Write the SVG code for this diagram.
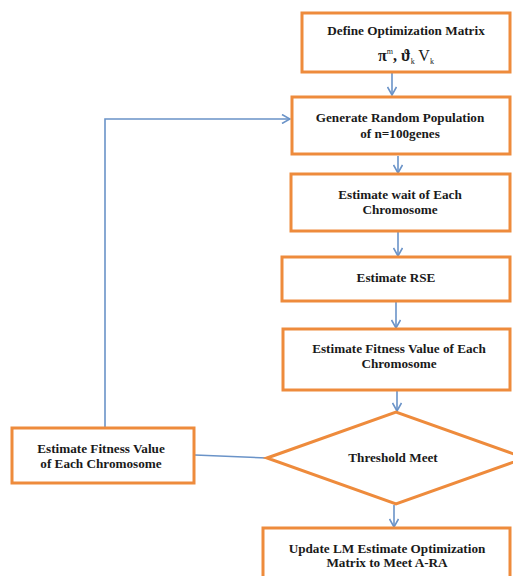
<svg xmlns="http://www.w3.org/2000/svg" width="513" height="576" viewBox="0 0 513 576">
<style>
.box{fill:#fff;stroke:#EE8B3C;stroke-width:3}
.t{font-family:"Liberation Serif","Times New Roman",serif;font-weight:bold;font-size:13.2px;fill:#1a1a1a;text-anchor:middle}
.c{fill:none;stroke:#6A93C8;stroke-width:1.6}
</style>
<defs>
<marker id="ah" viewBox="0 0 10 10" refX="9" refY="5" markerWidth="10" markerHeight="10" markerUnits="userSpaceOnUse" orient="auto">
<path d="M1,0.5 L9,5 L1,9.5" fill="none" stroke="#6A93C8" stroke-width="1.6"/>
</marker>
</defs>
<rect width="513" height="576" fill="#fff"/>
<g id="connectors">
<line class="c" x1="392" y1="73" x2="392" y2="95" marker-end="url(#ah)"/>
<line class="c" x1="398" y1="156" x2="398" y2="173" marker-end="url(#ah)"/>
<line class="c" x1="398" y1="232" x2="398" y2="256" marker-end="url(#ah)"/>
<line class="c" x1="396" y1="302" x2="396" y2="328" marker-end="url(#ah)"/>
<line class="c" x1="397" y1="391" x2="397" y2="411" marker-end="url(#ah)"/>
<line class="c" x1="394" y1="505" x2="394" y2="527" marker-end="url(#ah)"/>
<line class="c" x1="267" y1="458" x2="195" y2="455"/>
<polyline class="c" points="105,427 105,119 290,119" marker-end="url(#ah)"/>
</g>
<g id="n1">
<rect class="box" x="302" y="13" width="208" height="59"/>
<text class="t" x="406" y="35">Define Optimization Matrix</text>
<text class="t" x="406" y="61" style="font-size:16px">π<tspan style="font-size:8px;font-weight:normal" dy="-7">m</tspan><tspan dy="7">, ϑ</tspan><tspan style="font-size:8px;font-weight:normal" dy="3">k</tspan><tspan dy="-3" style="font-weight:normal">  V</tspan><tspan style="font-size:8px;font-weight:normal" dy="3">k</tspan></text>
</g>
<g id="n2">
<rect class="box" x="292" y="97" width="218" height="57"/>
<text class="t" x="400" y="122">Generate Random Population</text>
<text class="t" x="400" y="138">of n=100genes</text>
</g>
<g id="n3">
<rect class="box" x="291" y="174" width="219" height="57"/>
<text class="t" x="400" y="199">Estimate wait of Each</text>
<text class="t" x="400" y="214">Chromosome</text>
</g>
<g id="n4">
<rect class="box" x="282" y="257" width="228" height="44"/>
<text class="t" x="396" y="282">Estimate RSE</text>
</g>
<g id="n5">
<rect class="box" x="283" y="329" width="227" height="61"/>
<text class="t" x="399" y="353">Estimate Fitness Value of Each</text>
<text class="t" x="399" y="368">Chromosome</text>
</g>
<g id="n6">
<polygon class="box" points="267,458 396,412 525,458 396,504"/>
<text class="t" x="393" y="462">Threshold Meet</text>
</g>
<g id="n7">
<rect class="box" x="12" y="428" width="182" height="55"/>
<text class="t" x="101" y="453">Estimate Fitness Value</text>
<text class="t" x="101" y="468">of Each Chromosome</text>
</g>
<g id="n8">
<rect class="box" x="263" y="528" width="247" height="60"/>
<text class="t" x="387" y="553">Update LM Estimate Optimization</text>
<text class="t" x="387" y="567">Matrix to Meet A-RA</text>
</g>
</svg>
